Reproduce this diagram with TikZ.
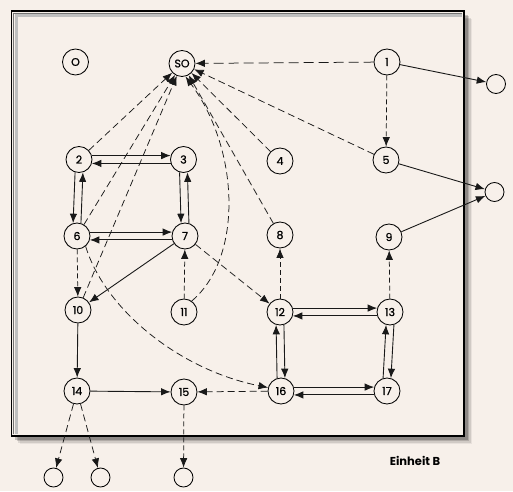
\documentclass[tikz,border=0pt]{standalone}
\usepackage{fontspec}
\setmainfont{Poppins}
\newfontfamily\statefont{Poppins}[FakeBold=0.8]
\usetikzlibrary{arrows.meta}
\usetikzlibrary{calc}
\tikzset{>={Latex[length=9.5pt,width=7.5pt]}}
\definecolor{paper}{RGB}{247,240,234}
\colorlet{linecol}{black!90}
\colorlet{shadowcol}{black}
\tikzstyle{state}=[draw=black,circle,line width=0.85pt,minimum size=26pt,inner sep=0pt,font=\statefont\fontsize{11}{13}\selectfont]
\tikzstyle{sink}=[draw=black,circle,line width=0.85pt,minimum size=19pt,inner sep=0pt]
\tikzstyle{flow}=[->,draw=linecol,line width=0.9pt]
\tikzstyle{dflow}=[->,draw=linecol,line width=0.75pt,dash pattern=on 7pt off 4pt]

\begin{document}
\begin{tikzpicture}[x=1pt,y=-1pt]
  % page and paper colour
  \fill[paper] (0,0) rectangle (513,491);
  \useasboundingbox (0,0) rectangle (513,491);

  % frame with a soft shadow
  \foreach \d/\op in {8/0.06,6.5/0.1,5/0.15,3.5/0.2} {
    \fill[shadowcol,opacity=\op] (11.5+\d,11+\d) rectangle (464+\d,436+\d);
  }
  \fill[paper] (11.5,11) rectangle (464,436);
  \draw[black!25,line width=3pt] (16,434) |- (462,15.5);
  \draw[black!55,line width=0.8pt] (13.8,434) |- (462,13.3);
  \draw[black,line width=1.4pt] (11.5,11) rectangle (464,436);

  % states
  \foreach \n/\x/\y in {1/387/62, 2/79/159.5, 3/183.5/159.5, 4/280/161, 5/386/160,
                        6/77/236, 7/185/236, 8/280/235, 9/389/237,
                        10/78/310, 11/184/312, 12/280/312, 13/390/312,
                        14/77/391, 15/184/392, 16/281/391, 17/387/391} {
    \node[state] (n\n) at (\x,\y) {\n};
  }
  \node[state] (o) at (75.5,62) {O};
  \node[state] (so) at (182,63.5) {SO};

  % open ends
  \node[sink] (out1) at (496,84) {};
  \node[sink] (out2) at (494.5,192) {};
  \node[sink] (out3) at (53.5,477.5) {};
  \node[sink] (out4) at (100.5,477.5) {};
  \node[sink] (out5) at (183.5,477.5) {};

  % back to SO
  \draw[dflow,dash pattern=on 10pt off 5pt] (n1) -- (so);
  \foreach \n in {5,4,8,2,6,10} {
    \draw[dflow] (n\n) -- (so);
  }
  \draw[dflow] (n11.55) .. controls (243,258) and (240,150) .. (so.-75);
  \draw[dflow] (n6.-50) .. controls (105,310) and (180,370) .. (n16.165);

  % pairs both ways
  \foreach \a/\b in {2/3,6/7,12/13,16/17} {
    \draw[flow] (n\a.17) -- (n\b.163);
    \draw[flow] (n\b.-163) -- (n\a.-17);
  }
  \foreach \a/\b in {2/6,3/7} {
    \draw[flow] (n\a.-107) -- (n\b.107);
    \draw[flow] (n\b.73) -- (n\a.-73);
  }
  \foreach \a/\b in {12/16,13/17} {
    \draw[flow] (n\a.-73) -- (n\b.73);
    \draw[flow] (n\b.107) -- (n\a.-107);
  }

  % single steps
  \draw[flow] (n7) -- (n10);
  \draw[flow] (n10) -- (n14);
  \draw[flow] (n14) -- (n15);
  \draw[flow] (n1) -- (out1);
  \draw[flow] (n5) -- (out2);
  \draw[flow] (n9) -- (out2);

  \draw[dflow,dash pattern=on 5pt off 3pt] (n1) -- (n5);
  \draw[dflow,dash pattern=on 5pt off 3pt] (n6) -- (n10);
  \draw[dflow,dash pattern=on 5pt off 3pt] (n11) -- (n7);
  \draw[dflow] (n7) -- (n12);
  \draw[dflow,dash pattern=on 5pt off 3pt] (n12) -- (n8);
  \draw[dflow,dash pattern=on 5pt off 3pt] (n13) -- (n9);
  \draw[dflow] (n16) -- (n15);
  \draw[dflow] (n14) -- (out3);
  \draw[dflow] (n14) -- (out4);
  \draw[dflow,dash pattern=on 5pt off 3pt] (n15) -- (out5);

  \node[font=\bfseries\fontsize{11.5}{13}\selectfont] (label) at (415,461) {Einheit B};
\end{tikzpicture}
\end{document}
